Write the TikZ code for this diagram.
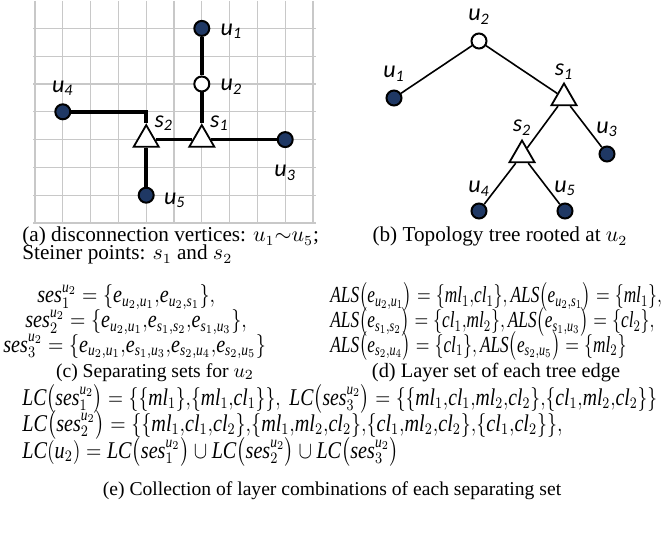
\documentclass[tikz,border=0pt]{standalone}
\usepackage{amsmath}
\usepackage{graphicx}
\usepackage{fontspec}
\setmainfont{Liberation Serif}
\newfontfamily\labfont{Carlito}
\usepackage{tikz}
\usetikzlibrary{
  shapes.geometric,
  positioning,
  calc
}
\usepackage{xcolor}
\definecolor{cnavy}{RGB}{31,56,100}
\definecolor{cgrid}{RGB}{200,200,200}
\newcommand{\vt}[1]{\mathit{#1}}
\newcommand{\uv}[1]{\vt{u}_{#1}}
\newcommand{\sv}[1]{\vt{s}_{#1}}
\newcommand{\ed}[2]{\vt{e}_{#1{,}#2}}
\newcommand{\ses}[1]{\vt{ses}_{#1}^{\uv2}}
\newcommand{\ml}[1]{\vt{ml}_{#1}}
\newcommand{\cl}[1]{\vt{cl}_{#1}}
\newcommand{\ALS}{\vt{ALS}}
\newcommand{\LC}{\vt{LC}}
\newcommand{\squeeze}[2][0.84]{\scalebox{#1}[1]{$#2$}}
\tikzset{
  term/.style={
    circle, fill=cnavy, draw=black, line width=1pt,
    minimum size=7.5pt, inner sep=0pt
  },
  root/.style={
    term, fill=white
  },
  steiner/.style={
    regular polygon, regular polygon sides=3,
    fill=white, draw=black, line width=0.9pt,
    minimum size=14.5pt, inner sep=0pt
  },
  lab/.style={
    font=\labfont\itshape\fontsize{12}{14}\selectfont, inner sep=0pt
  },
  gridline/.style={cgrid, line width=0.6pt},
  wire/.style={line width=1.8pt},
  branch/.style={line width=0.8pt},
  capt/.style={
    font=\fontsize{#1}{12}\selectfont, inner sep=0pt
  },
  capt/.default=10,
  eqn/.style={
    anchor=base west, inner sep=0pt, font=\fontsize{#1}{14}\selectfont
  },
  eqn/.default=12
}
\begin{document}
\begin{tikzpicture}[x=0.5pt, y=-0.5pt]
    \useasboundingbox (0,0) rectangle (663,550);

    %% ---- (a): grid layout ----------------------------------------
    \foreach \i in {0,...,10}
      \draw[gridline] ({35+27.8*\i},0.6) -- ({35+27.8*\i},223);
    \foreach \j in {0,...,7}
      \draw[gridline] (33,{223-27.8*\j}) -- (316,{223-27.8*\j});

    \node[term]    (u1) at (201.8,28.4)  {};
    \node[root]    (u2) at (201.8,84)    {};
    \node[steiner] (s1) at (201.8,139.6) {};
    \node[term]    (u3) at (285.2,139.6) {};
    \node[steiner] (s2) at (146.2,139.6) {};
    \node[term]    (u4) at (62.8,111.8)  {};
    \node[term]    (u5) at (146.2,195.2) {};
    \coordinate (bend) at (146.2,111.8);

    \draw[wire] (u1)--(u2); \draw[wire] (u2)--(s1);
    \draw[wire] (s1)--(u3); \draw[wire] (s2)--(s1);
    \draw[wire] (u4)--(bend)--(s2);
    \draw[wire] (s2)--(u5);

    \node[lab, right=5pt of u1, yshift=-1.5pt] (lu1) {u\textsubscript{1}};
    \node[lab, right=5pt of u2, yshift=-1.5pt] (lu2) {u\textsubscript{2}};
    \node[lab, below=8.5pt of u3]              (lu3) {u\textsubscript{3}};
    \node[lab, above=3.5pt of u4]              (lu4) {u\textsubscript{4}};
    \node[lab, right=4.5pt of u5, yshift=-2.5pt] (lu5) {u\textsubscript{5}};
    \node[lab, anchor=south west, xshift=4pt, yshift=-4pt] (ls1)
      at (s1.north) {s\textsubscript{1}};
    \node[lab, anchor=south west, xshift=4pt, yshift=-4pt] (ls2)
      at (s2.north) {s\textsubscript{2}};

    \node[capt=10.6, anchor=base west] (capa) at (22,242)
      {(a) disconnection vertices: $u_1{\sim}u_5$;};
    \node[capt=10.6, anchor=base west] (capa2) at (22,260)
      {Steiner points: $s_1$ and $s_2$};

    %% ---- (b): topology tree --------------------------------------
    \node[root]    (tu2) at (479,41)  {};
    \node[term]    (tu1) at (394,98)  {};
    \node[steiner] (ts1) at (564,98)  {};
    \node[steiner] (ts2) at (522,155) {};
    \node[term]    (tu3) at (607,154) {};
    \node[term]    (tu4) at (479,211) {};
    \node[term]    (tu5) at (565,211) {};

    \draw[branch] (tu2)--(tu1); \draw[branch] (tu2)--(ts1);
    \draw[branch] (ts1)--(ts2); \draw[branch] (ts1)--(tu3);
    \draw[branch] (ts2)--(tu4); \draw[branch] (ts2)--(tu5);

    \node[lab, above=4pt of tu2]   (ltu2) {u\textsubscript{2}};
    \node[lab, above=4pt of tu1]   (ltu1) {u\textsubscript{1}};
    \node[lab, above=1pt of ts1]   (lts1) {s\textsubscript{1}};
    \node[lab, above=1.5pt of ts2] (lts2) {s\textsubscript{2}};
    \node[lab, above=4pt of tu3]   (ltu3) {u\textsubscript{3}};
    \node[lab, above=3pt of tu4]   (ltu4) {u\textsubscript{4}};
    \node[lab, above=3pt of tu5]   (ltu5) {u\textsubscript{5}};

    \node[capt=10.6, anchor=base] (capb) at (500,242)
      {(b) Topology tree rooted at $u_2$};

    %% ---- (c): separating sets ------------------------------------
    \node[eqn] (c1) at (37,303)
      {\squeeze{\ses1=\{\ed{\uv2}{\uv1}{,}\ed{\uv2}{\sv1}\},}};
    \node[eqn] (c2) at (25,328)
      {\squeeze{\ses2=\{\ed{\uv2}{\uv1}{,}\ed{\sv1}{\sv2}{,}\ed{\sv1}{\uv3}\},}};
    \node[eqn] (c3) at (3,352)
      {\squeeze{\ses3=\{\ed{\uv2}{\uv1}{,}\ed{\sv1}{\uv3}{,}\ed{\sv2}{\uv4}{,}\ed{\sv2}{\uv5}\}}};
    \node[capt=9.8, anchor=base] (capc) at (155,377)
      {(c) Separating sets for $u_2$};

    %% ---- (d): layer sets -----------------------------------------
    \node[eqn=11.5] (d1) at (330,303)
      {\squeeze[0.75]{\ALS\bigl(\ed{\uv2}{\uv1}\bigr)=\{\ml1{,}\cl1\}{,}\,
        \ALS\bigl(\ed{\uv2}{\sv1}\bigr)=\{\ml1\},}};
    \node[eqn=11.5] (d2) at (330,328)
      {\squeeze[0.75]{\ALS\bigl(\ed{\sv1}{\sv2}\bigr)=\{\cl1{,}\ml2\}{,}\,
        \ALS\bigl(\ed{\sv1}{\uv3}\bigr)=\{\cl2\},}};
    \node[eqn=11.5] (d3) at (330,352)
      {\squeeze[0.75]{\ALS\bigl(\ed{\sv2}{\uv4}\bigr)=\{\cl1\}{,}\,
        \ALS\bigl(\ed{\sv2}{\uv5}\bigr)=\{\ml2\}}};
    \node[capt=10.2, anchor=base] (capd) at (496,377)
      {(d) Layer set of each tree edge};

    %% ---- (e): layer combinations ---------------------------------
    \node[eqn] (e1) at (22,405)
      {\squeeze[0.82]{\LC\bigl(\ses1\bigr)=\{\{\ml1\}{,}\{\ml1{,}\cl1\}\},\;
        \LC\bigl(\ses3\bigr)=\{\{\ml1{,}\cl1{,}\ml2{,}\cl2\}{,}\{\cl1{,}\ml2{,}\cl2\}\}}};
    \node[eqn] (e2) at (22,431)
      {\squeeze{\LC\bigl(\ses2\bigr)=\{\{\ml1{,}\cl1{,}\cl2\}{,}\{\ml1{,}\ml2{,}\cl2\}{,}
        \{\cl1{,}\ml2{,}\cl2\}{,}\{\cl1{,}\cl2\}\},}};
    \node[eqn] (e3) at (22,458)
      {\squeeze{\LC(\uv2)=\LC\bigl(\ses1\bigr)\cup\LC\bigl(\ses2\bigr)
        \cup\LC\bigl(\ses3\bigr)}};
    \node[capt=9.8, anchor=base] (cape) at (332,495)
      {(e) Collection of layer combinations of each separating set};

  \end{tikzpicture}
\end{document}
